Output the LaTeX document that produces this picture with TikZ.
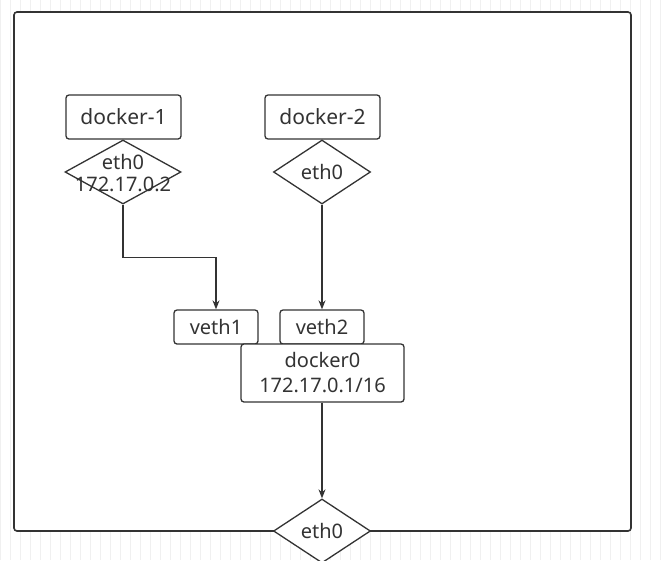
\documentclass[tikz,border=0pt]{standalone}
\usepackage{fontspec}
\setmainfont{Noto Sans}
\usetikzlibrary{shapes.geometric,arrows.meta}
\definecolor{ink}{HTML}{333333}
\definecolor{gridc}{HTML}{F0F0F0}
\tikzset{
  box/.style={draw=ink, line width=1.3pt, rounded corners=3pt, fill=white, inner sep=0pt, text=ink, font=\fontsize{21}{25}\selectfont},
  dia/.style={draw=ink, line width=1.3pt, diamond, fill=white, inner sep=0pt},
  lbl/.style={text=ink, font=\fontsize{20}{22}\selectfont, align=center, inner sep=0pt},
  conn/.style={draw=ink, line width=1.3pt, -{Stealth[length=9pt,width=7pt]}}
}
\begin{document}
\begin{tikzpicture}[x=1pt,y=-1pt]
\useasboundingbox (0,0) rectangle (666,560);
\fill[white] (0,0) rectangle (666,560);
\draw[gridc, line width=0.5pt] (0,0) grid[step=10] (666,560);
% outer frame
\draw[ink, line width=1.6pt, fill=white, rounded corners=3pt] (14,12) rectangle (631,531);
% docker-1
\node[box, minimum width=115pt, minimum height=44pt] (d1) at (123.5,117) {docker-1};
\node[box, minimum width=115pt, minimum height=44pt] (d2) at (322.5,117) {docker-2};
\node[dia, minimum width=116pt, minimum height=64pt] (e1) at (123,172) {};
\node[lbl] (e1t) at (123,173) {eth0\\172.17.0.2};
\node[dia, minimum width=97pt, minimum height=64pt] (e2) at (322,172) {};
\node[lbl] (e2t) at (322,172) {eth0};
\node[box, minimum width=84pt, minimum height=34pt, font=\fontsize{20}{24}\selectfont] (v1) at (216,327) {veth1};
\node[box, minimum width=84pt, minimum height=34pt, font=\fontsize{20}{24}\selectfont] (v2) at (322,327) {veth2};
\node[box, minimum width=163pt, minimum height=58pt, align=center, font=\fontsize{20}{25}\selectfont] (d0) at (322.5,373) {docker0\\172.17.0.1/16};
\node[dia, minimum width=97pt, minimum height=64pt] (e3) at (322,531) {};
\node[lbl] (e3t) at (322,531) {eth0};
% connectors
\draw[conn] (e1.south) -- ++(0,53) -| (v1.north);
\draw[conn] (e2.south) -- (v2.north);
\draw[conn] (d0.south -| e3.north) -- (e3.north);
\end{tikzpicture}
\end{document}
